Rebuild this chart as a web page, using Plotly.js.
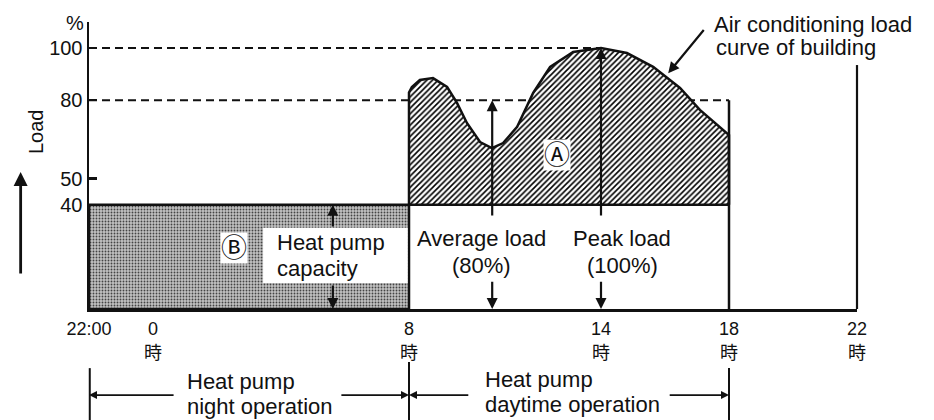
<!DOCTYPE html>
<html>
<head>
<meta charset="utf-8">
<script src="https://cdn.plot.ly/plotly-3.0.1.min.js"></script>
<style>html,body{margin:0;padding:0;background:#fff;}#chart{width:934px;height:420px;}</style>
</head>
<body>
<div id="chart"></div>
<script>
// ---- data (x = hours elapsed since 22:00) ----
const tickHours = [0, 2, 10, 16, 20, 24];
const tickLabels = ['22:00', '0<br>時', '8<br>時', '14<br>時', '18<br>時', '22<br>時'];
const yTickVals = [40, 50, 80, 100];
const heatPumpCapacity = 40;   // %
const averageLoad = 80;        // %
const peakLoad = 100;          // %
const nightStart = 0, nightEnd = 10, dayEnd = 20, peakHour = 16, dayClose = 24;
// air conditioning load curve of building (daytime 8時-18時)
const curveHours = [10, 10, 10.09, 10.34, 10.75, 11.19, 11.5, 11.81, 12.22, 12.59, 12.94, 13.38, 13.88, 14.41, 15.13, 16, 16.81, 17.63, 18.47, 19.09, 20, 20];
const curveLoad  = [40, 83, 85.1, 87.8, 88.5, 85.1, 79.0, 71.3, 64.0, 61.7, 63.6, 69.8, 82.8, 92.8, 98.5, 100, 98.1, 92.8, 84.7, 76.3, 66.7, 40];
const avgHour = 12.6, capHour = 7.62;

const ink = '#111';
const F = 'Liberation Sans, Arial, Helvetica, sans-serif';
const CJK = 'Liberation Sans, Noto Sans CJK JP, sans-serif';
const CIRC = 'DejaVu Sans, Noto Sans CJK JP, sans-serif';

const traces = [
  // dashed reference lines
  {x: [nightStart, peakHour], y: [peakLoad, peakLoad], mode: 'lines',
   line: {color: ink, width: 2, dash: '8px,5px'}, hoverinfo: 'skip'},
  {x: [nightStart, dayEnd], y: [averageLoad, averageLoad], mode: 'lines',
   line: {color: ink, width: 2, dash: '8px,5px'}, hoverinfo: 'skip'},
  // night heat-pump operation (B) : stippled box
  {x: [nightStart, nightStart, nightEnd, nightEnd, nightStart],
   y: [0, heatPumpCapacity, heatPumpCapacity, 0, 0],
   mode: 'lines', fill: 'toself', fillcolor: '#b4b4b4',
   fillpattern: {shape: '.', fgcolor: '#444', bgcolor: '#c2c2c2', size: 3, solidity: 0.3},
   line: {color: ink, width: 2.5}, hoverinfo: 'skip'},
  // daytime load above capacity (A) : hatched
  {x: curveHours, y: curveLoad, mode: 'lines', fill: 'toself', fillcolor: '#fff',
   fillpattern: {shape: '/', fgcolor: '#000', bgcolor: '#fff', size: 4, solidity: 0.4},
   line: {color: ink, width: 2.5}, hoverinfo: 'skip'},
  // daytime box edges
  {x: [nightEnd, dayEnd], y: [heatPumpCapacity, heatPumpCapacity], mode: 'lines',
   line: {color: ink, width: 2.5}, hoverinfo: 'skip'},
  {x: [dayEnd, dayEnd], y: [0, averageLoad], mode: 'lines',
   line: {color: ink, width: 2.5}, hoverinfo: 'skip'}
];

// helpers for layout decorations
function txt(text, x, y, opts) {
  return Object.assign({text: text, x: x, y: y, xref: 'x', yref: 'y', showarrow: false,
    font: {family: F, size: 22, color: ink}, xanchor: 'center', yanchor: 'middle'}, opts || {});
}
function arr(x, y, ax, ay, opts) {
  return Object.assign({text: '', x: x, y: y, ax: ax, ay: ay, xref: 'x', yref: 'y', axref: 'x', ayref: 'y',
    showarrow: true, arrowhead: 2, arrowsize: 1, arrowwidth: 2.2, arrowcolor: ink}, opts || {});
}
const pY = -0.30; // level of the operation arrows (paper)

const annotations = [
  {text: '%', xref: 'paper', yref: 'y', x: 0, y: 109.6, xanchor: 'right', xshift: -3, showarrow: false,
   font: {family: F, size: 20, color: ink}},
  {text: 'Load', xref: 'paper', yref: 'paper', x: -0.086, y: 0.62, textangle: -90, showarrow: false,
   font: {family: F, size: 20, color: ink}},
  {text: '', xref: 'paper', yref: 'paper', x: -0.089, y: 0.477, ax: 0, ay: 103, showarrow: true,
   arrowhead: 2, arrowsize: 1, arrowwidth: 2.8, arrowcolor: ink},
  txt('Air conditioning load', 19.47, 108.9, {xanchor: 'left'}),
  txt('curve of building', 19.53, 100.4, {xanchor: 'left'}),
  arr(18.1, 90.4, 19.25, 107.5),
  txt('Ⓐ', 14.63, 59.0, {font: {family: CIRC, size: 26, color: ink}, bgcolor: '#fff', borderpad: 0}),
  txt('Ⓑ', 4.53, 23.4, {font: {family: CIRC, size: 26, color: ink}, bgcolor: '#fff', borderpad: 0}),
  txt('Heat pump', 5.81, 25.3, {xanchor: 'left'}),
  txt('capacity', 5.81, 15.7, {xanchor: 'left'}),
  txt('Average load', 12.25, 27.2),
  txt('(80%)', 12.25, 16.5),
  txt('Peak load', 16.66, 27.2),
  txt('(100%)', 16.66, 16.5),
  // dimension arrows
  arr(capHour, heatPumpCapacity, capHour, 31.0),
  arr(capHour, 0, capHour, 9.6),
  arr(avgHour, averageLoad, avgHour, 35.3),
  arr(avgHour, 0, avgHour, 11),
  arr(peakHour, peakLoad, peakHour, 35.3),
  arr(peakHour, 0, peakHour, 11),
  // operation periods
  txt('Heat pump', 3.0, -0.251, {yref: 'paper', xanchor: 'left'}),
  txt('night operation', 3.0, -0.341, {yref: 'paper', xanchor: 'left'}),
  txt('Heat pump', 12.31, -0.247, {yref: 'paper', xanchor: 'left'}),
  txt('daytime operation', 12.31, -0.334, {yref: 'paper', xanchor: 'left'}),
  {text: '', xref: 'x', yref: 'paper', x: nightStart, y: pY, axref: 'x', ayref: 'pixel', ax: 2.69, ay: 0,
   showarrow: true, arrowhead: 2, arrowsize: 1, arrowwidth: 1.6, arrowcolor: ink},
  {text: '', xref: 'x', yref: 'paper', x: nightEnd, y: pY, axref: 'x', ayref: 'pixel', ax: 7.84, ay: 0,
   showarrow: true, arrowhead: 2, arrowsize: 1, arrowwidth: 1.6, arrowcolor: ink},
  {text: '', xref: 'x', yref: 'paper', x: nightEnd, y: pY, axref: 'x', ayref: 'pixel', ax: 11.9, ay: 0,
   showarrow: true, arrowhead: 2, arrowsize: 1, arrowwidth: 1.6, arrowcolor: ink},
  {text: '', xref: 'x', yref: 'paper', x: dayEnd, y: pY, axref: 'x', ayref: 'pixel', ax: 18.1, ay: 0,
   showarrow: true, arrowhead: 2, arrowsize: 1, arrowwidth: 1.6, arrowcolor: ink}
];

const shapes = [
  // white label patch inside the stippled box
  {type: 'rect', xref: 'x', yref: 'y', x0: 5.44, x1: nightEnd - 0.04, y0: 10.0, y1: 31.1,
   fillcolor: '#fff', line: {width: 0}},
  // 22時 closing line
  {type: 'line', xref: 'paper', yref: 'y', x0: 1, x1: 1, y0: 0, y1: 93.5, line: {color: ink, width: 2.2}},
  // overbars of circled letters
  {type: 'line', xref: 'x', yref: 'y', x0: 14.34, x1: 14.91, y0: 64.8, y1: 64.8, line: {color: ink, width: 1.5}},
  {type: 'line', xref: 'x', yref: 'y', x0: 4.16, x1: 4.9, y0: 28.4, y1: 28.4, line: {color: ink, width: 1.5}},
  // operation period boundaries below the axis
  {type: 'line', xref: 'paper', yref: 'paper', x0: 0.001, x1: 0.001, y0: -0.206, y1: -0.40, line: {color: ink, width: 2}},
  {type: 'line', xref: 'x', yref: 'paper', x0: nightEnd, x1: nightEnd, y0: -0.185, y1: -0.40, line: {color: ink, width: 2}},
  {type: 'line', xref: 'x', yref: 'paper', x0: dayEnd, x1: dayEnd, y0: -0.206, y1: -0.40, line: {color: ink, width: 2}}
];

const layout = {
  width: 934, height: 420,
  margin: {l: 89, r: 77, t: 22, b: 111, pad: 0},
  paper_bgcolor: '#fff', plot_bgcolor: '#fff',
  showlegend: false,
  xaxis: {range: [0, 24], showgrid: false, zeroline: false, showline: true, linecolor: ink, linewidth: 2.5,
    ticks: '', tickmode: 'array', tickvals: tickHours, ticktext: tickLabels, ticklabelstandoff: 2,
    tickfont: {family: CJK, size: 18, color: ink}, fixedrange: true},
  yaxis: {range: [0, 110], showgrid: false, zeroline: false, showline: true, linecolor: ink, linewidth: 2.5,
    ticks: 'inside', ticklen: 8, tickwidth: 2.2, tickcolor: ink, tickmode: 'array', tickvals: yTickVals,
    tickfont: {family: F, size: 20, color: ink}, fixedrange: true},
  shapes: shapes,
  annotations: annotations
};

Plotly.newPlot('chart', traces, layout, {displayModeBar: false, staticPlot: true});
</script>
</body>
</html>
